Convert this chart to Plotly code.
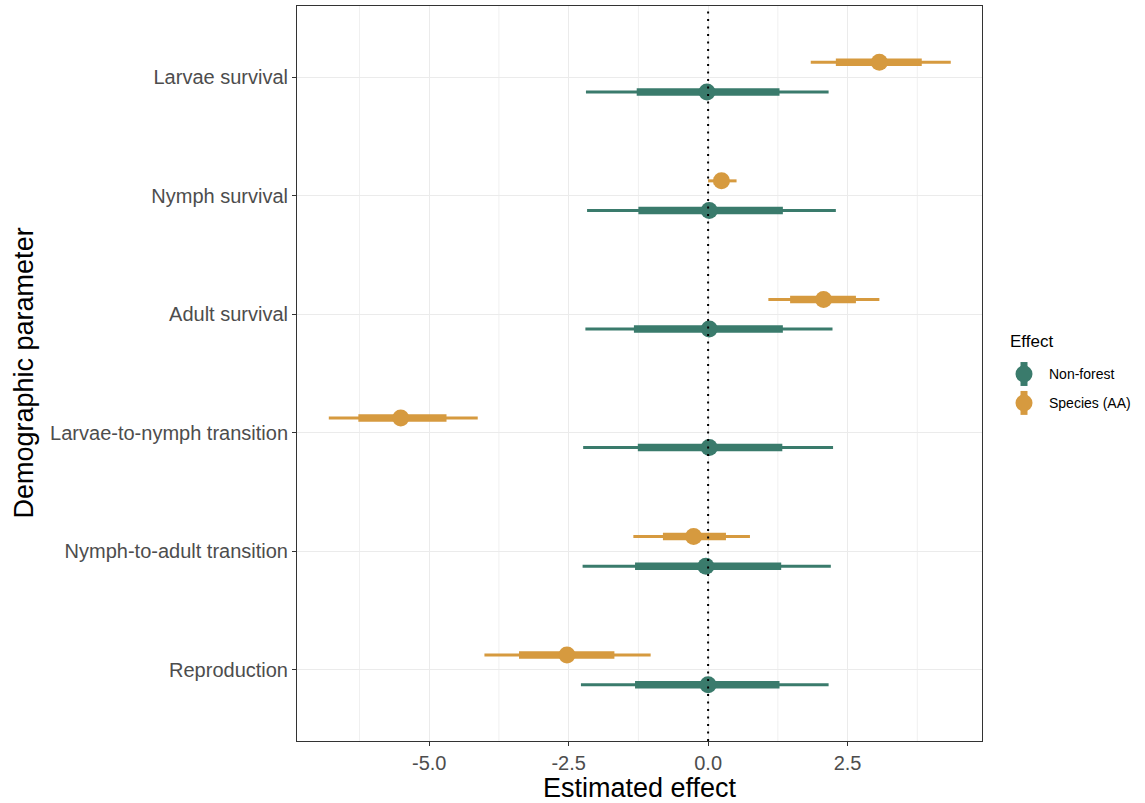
import plotly.graph_objects as go

# Demographic parameters, top to bottom
categories = [
    "Larvae survival",
    "Nymph survival",
    "Adult survival",
    "Larvae-to-nymph transition",
    "Nymph-to-adult transition",
    "Reproduction",
]

# Non-forest effect: median, inner interval, outer interval
nf_est = [-0.02, 0.02, 0.02, 0.02, -0.04, 0.00]
nf_lo_inner = [-1.28, -1.25, -1.33, -1.26, -1.31, -1.31]
nf_hi_inner = [1.28, 1.34, 1.34, 1.33, 1.31, 1.28]
nf_lo_outer = [-2.19, -2.17, -2.20, -2.24, -2.25, -2.28]
nf_hi_outer = [2.16, 2.29, 2.23, 2.24, 2.20, 2.16]

# Species (AA) effect
sp_est = [3.07, 0.24, 2.07, -5.51, -0.26, -2.53]
sp_lo_inner = [2.29, 0.10, 1.47, -6.27, -0.81, -3.39]
sp_hi_inner = [3.83, 0.36, 2.65, -4.69, 0.32, -1.68]
sp_lo_outer = [1.84, 0.00, 1.08, -6.80, -1.34, -4.01]
sp_hi_outer = [4.35, 0.51, 3.07, -4.13, 0.75, -1.03]

x_ticks = [-5.0, -2.5, 0.0, 2.5]
x_minor = [-6.25, -3.75, -1.25, 1.25, 3.75]

GREEN = "#3a7b6c"
ORANGE = "#d69a3f"
FONT = "Liberation Sans, Arial, sans-serif"

W, H = 1145, 803
ML, MR, MT, MB = 297, 163, 5, 61
PW, PH = W - ML - MR, H - MT - MB


def px(x):
    return (x - ML) / PW


def py(y):
    return (H - MB - y) / PH


n = len(categories)
ypos = [n - i for i in range(n)]  # first category at the top


def segments(lo, hi, ys):
    xs, yy = [], []
    for a, b, y in zip(lo, hi, ys):
        xs += [a, b, None]
        yy += [y, y, None]
    return xs, yy


fig = go.Figure()

series = [
    ("Non-forest", GREEN, -0.125, nf_est, nf_lo_inner, nf_hi_inner, nf_lo_outer, nf_hi_outer),
    ("Species (AA)", ORANGE, 0.125, sp_est, sp_lo_inner, sp_hi_inner, sp_lo_outer, sp_hi_outer),
]

for name, col, dodge, est, lo_i, hi_i, lo_o, hi_o in series:
    ys = [y + dodge for y in ypos]
    xs, yy = segments(lo_o, hi_o, ys)
    fig.add_trace(go.Scatter(x=xs, y=yy, mode="lines", line=dict(color=col, width=3),
                             showlegend=False, hoverinfo="skip"))
    xs, yy = segments(lo_i, hi_i, ys)
    fig.add_trace(go.Scatter(x=xs, y=yy, mode="lines", line=dict(color=col, width=7.5),
                             showlegend=False, hoverinfo="skip"))
    fig.add_trace(go.Scatter(x=est, y=ys, mode="markers", name=name,
                             marker=dict(color=col, size=17, line=dict(width=0)),
                             showlegend=False))

# minor vertical gridlines
for xm in x_minor:
    fig.add_shape(type="line", x0=xm, x1=xm, y0=0, y1=1, xref="x", yref="y domain",
                  line=dict(color="#f0f0f0", width=1), layer="below")

# reference line at zero
fig.add_shape(type="line", x0=0, x1=0, y0=0, y1=1, xref="x", yref="y domain",
              line=dict(color="black", width=2, dash="2px,5.5px"), layer="above")

# legend: point-range glyphs with labels
annotations = [dict(
    text="Effect", xref="paper", yref="paper", x=px(1008), y=py(341),
    xanchor="left", yanchor="middle", showarrow=False,
    font=dict(size=17, color="black", family=FONT),
)]
for i, (name, col, *_rest) in enumerate(series):
    cy = 374 + 29 * i
    cx = 1024
    fig.add_shape(type="rect", xref="paper", yref="paper",
                  x0=px(cx - 3.5), x1=px(cx + 3.5), y0=py(cy + 12), y1=py(cy - 12),
                  fillcolor=col, line=dict(width=0))
    fig.add_shape(type="circle", xref="paper", yref="paper",
                  x0=px(cx - 8.5), x1=px(cx + 8.5), y0=py(cy + 8.5), y1=py(cy - 8.5),
                  fillcolor=col, line=dict(width=0))
    annotations.append(dict(
        text=name, xref="paper", yref="paper", x=px(1047), y=py(cy),
        xanchor="left", yanchor="middle", showarrow=False,
        font=dict(size=14, color="black", family=FONT),
    ))

annotations.append(dict(
    text="Demographic parameter", textangle=-90, xref="paper", yref="paper",
    x=px(23), y=0.5, xanchor="center", yanchor="middle", showarrow=False,
    font=dict(size=27, color="black", family=FONT),
))

fig.update_layout(
    width=W, height=H,
    margin=dict(l=ML, r=MR, t=MT, b=MB),
    plot_bgcolor="white", paper_bgcolor="white",
    font=dict(family=FONT, color="#4d4d4d"),
    showlegend=False,
    xaxis=dict(
        range=[-7.37, 4.91], tickvals=x_ticks, ticktext=[f"{v:.1f}" for v in x_ticks],
        showgrid=True, gridcolor="#ebebeb", gridwidth=1.3, zeroline=False,
        showline=True, linecolor="#333333", linewidth=1, mirror=True,
        ticks="outside", ticklen=4, tickcolor="#333333",
        tickfont=dict(size=20, color="#4d4d4d"),
        title=dict(text="Estimated effect", font=dict(size=27, color="black"), standoff=5),
    ),
    yaxis=dict(
        range=[0.4, 6.6], tickvals=ypos, ticktext=categories,
        showgrid=True, gridcolor="#ebebeb", gridwidth=1.3, zeroline=False,
        showline=True, linecolor="#333333", linewidth=1, mirror=True,
        ticks="outside", ticklen=4, tickcolor="#333333",
        tickfont=dict(size=20, color="#4d4d4d"),
    ),
    annotations=annotations,
)

fig.write_html("out.html")
